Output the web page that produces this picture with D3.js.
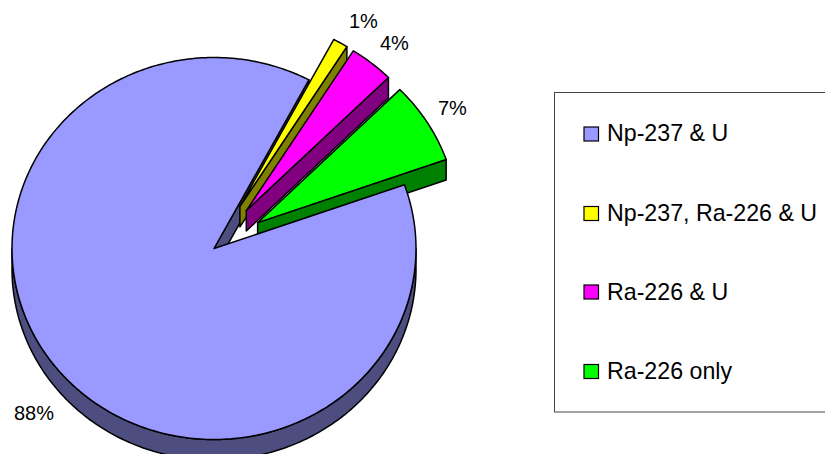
<!DOCTYPE html>
<html><head><meta charset="utf-8">
<style>html,body{margin:0;padding:0;background:#fff;overflow:hidden}svg{display:block}text{font-family:"Liberation Sans",Arial,sans-serif;fill:#000}</style>
<script src="https://cdnjs.cloudflare.com/ajax/libs/d3/7.8.5/d3.min.js"></script>
</head><body>
<script>
const categories = ["Np-237 & U", "Np-237, Ra-226 & U", "Ra-226 & U", "Ra-226 only"];
const values = [88.2, 1.2, 3.6, 7.0];
const percentLabels = ["88%", "1%", "4%", "7%"];
const topColors = ["#9999FF", "#FFFF00", "#FF00FF", "#00FF00"];
const sideColors = ["#4D4D80", "#808000", "#800080", "#008000"];
const labelX = [14, 349, 380, 438];
const labelY = [420, 28, 50, 115];
const legendSwatchY = [127, 206.5, 285, 364.5];
const legendBaseY = [141, 221, 300, 379];

const W = 825, H = 454;
const cx = 214, cy = 248.5, rx = 202, ry = 191, depth = 20.5, explode = 0.255, sliceScale = 0.99;
const rad = d => d * Math.PI / 180;
const start = rad(70.5);

const svg = d3.select("body").append("svg").attr("width", W).attr("height", H);
const slices = d3.pie().sort(null).startAngle(start).endAngle(start + 2 * Math.PI)(values);
const line = d3.line();

const centerOf = (s, i) => {
  if (i === 0) return [cx, cy];
  const m = (s.startAngle + s.endAngle) / 2;
  return [cx + explode * rx * Math.sin(m), cy - explode * ry * Math.cos(m)];
};
const pt = (c, a, dy = 0, k = 1) => [c[0] + k * rx * Math.sin(a), c[1] - k * ry * Math.cos(a) + dy];
const arcPts = (c, a0, a1, dy = 0, k = 1) =>
  d3.range(0, 1.0001, 1 / Math.max(2, Math.ceil(Math.abs(a1 - a0) * 60)))
    .map(t => pt(c, a0 + (a1 - a0) * t, dy, k));

const draw = (pts, fill) => svg.append("path").attr("d", line(pts) + "Z")
  .attr("fill", fill).attr("stroke", "#000").attr("stroke-width", 1.5).attr("stroke-linejoin", "round");

const scaleOf = i => i === 0 ? 1 : sliceScale;
const topPts = (s, i) => [centerOf(s, i), ...arcPts(centerOf(s, i), s.startAngle, s.endAngle, 0, scaleOf(i))];
const facePts = (c, a, k) => [c, pt(c, a, 0, k), pt(c, a, depth, k), [c[0], c[1] + depth]];

// main slice: outer wall and far cut face
const main = slices[0], mc = centerOf(main, 0);
const wallA0 = rad(90), wallA1 = rad(270);
draw([...arcPts(mc, wallA0, wallA1), ...arcPts(mc, wallA1, wallA0, depth)], sideColors[0]);
draw(facePts(mc, main.endAngle, 1), sideColors[0]);

// exploded slices: cut face, then top
[1, 2, 3].forEach(i => {
  const s = slices[i], c = centerOf(s, i);
  draw(facePts(c, s.endAngle, sliceScale), sideColors[i]);
  if (i < 3) draw(topPts(s, i), topColors[i]);
});
// main top covers the foot of the green cut face
draw(topPts(main, 0), topColors[0]);
draw(topPts(slices[3], 3), topColors[3]);

// percent labels
percentLabels.forEach((t, i) => svg.append("text").attr("x", labelX[i]).attr("y", labelY[i])
  .attr("font-size", 20).text(t));

// legend
svg.append("rect").attr("x", 554.5).attr("y", 92.5).attr("width", 290).attr("height", 319.5)
  .attr("fill", "#fff").attr("stroke", "#444").attr("stroke-width", 1);
categories.forEach((t, i) => {
  svg.append("rect").attr("x", 584).attr("y", legendSwatchY[i]).attr("width", 14.5).attr("height", 14)
    .attr("fill", topColors[i]).attr("stroke", "#000").attr("stroke-width", 1.2);
  svg.append("text").attr("x", 607).attr("y", legendBaseY[i]).attr("font-size", 23.2).text(t);
});
</script>
</body></html>
